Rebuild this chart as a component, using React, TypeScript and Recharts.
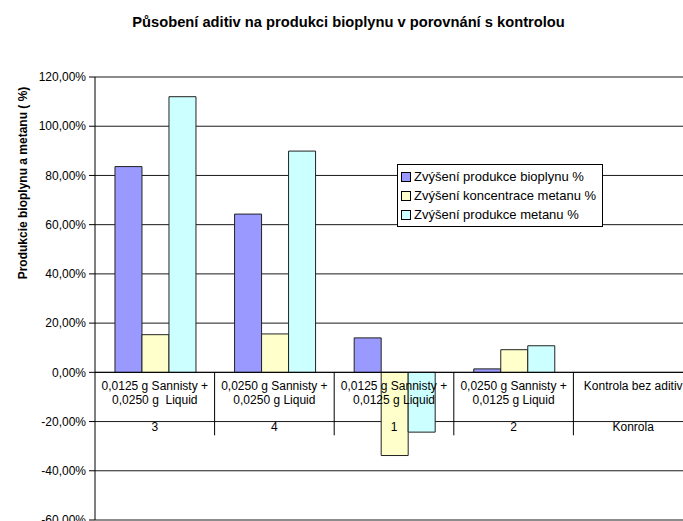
import { BarChart, Bar, XAxis, YAxis, CartesianGrid, Legend, ReferenceLine } from 'recharts'

const categoryLines = [
  ['0,0125 g Sannisty +', '0,0250 g  Liquid'],
  ['0,0250 g Sannisty +', '0,0250 g Liquid'],
  ['0,0125 g Sannisty +', '0,0125 g Liquid'],
  ['0,0250 g Sannisty +', '0,0125 g Liquid'],
  ['Kontrola bez aditiv'],
]
const groupLabels = ['3', '4', '1', '2', 'Konrola']

const bioplynProdukce = [0.836, 0.643, 0.14, 0.014, 0]
const metanKoncentrace = [0.153, 0.156, -0.338, 0.092, 0]
const metanProdukce = [1.12, 0.899, -0.243, 0.108, 0]

const yTicks = [-0.6, -0.4, -0.2, 0, 0.2, 0.4, 0.6, 0.8, 1.0, 1.2]

const seriesNames = [
  'Zvýšení produkce bioplynu %',
  'Zvýšení koncentrace metanu %',
  'Zvýšení produkce metanu %',
]
const seriesColors = ['#9999ff', '#ffffcc', '#ccffff']

const data = categoryLines.map((lines, i) => ({
  name: String(i),
  bioplyn: bioplynProdukce[i],
  koncentrace: metanKoncentrace[i],
  metan: metanProdukce[i],
}))

const FONT = '"Liberation Sans", Arial, sans-serif'
const PLOT_LEFT = 95
const PLOT_TOP = 77
const PLOT_W = 598
const PLOT_H = 443
const X_AXIS_H = 30
const ZERO_Y = PLOT_TOP + PLOT_H * (1.2 / 1.8)
const BAND = PLOT_W / categoryLines.length

const formatPct = (v: number) => `${(v * 100).toFixed(2).replace('.', ',')}%`

const CategoryTick = (props: any) => {
  const { x, payload } = props
  const i = Number(payload.value)
  const lines = categoryLines[i]
  return (
    <g>
      {lines.map((line, k) => (
        <text
          key={k}
          x={x}
          y={ZERO_Y + 18 + k * 14}
          textAnchor="middle"
          fontSize={12}
          fontFamily={FONT}
          fill="#000"
          style={{ whiteSpace: 'pre' }}
        >
          {line}
        </text>
      ))}
      <text x={x} y={ZERO_Y + 59} textAnchor="middle" fontSize={12} fontFamily={FONT} fill="#000">
        {groupLabels[i]}
      </text>
      <line x1={x + BAND / 2} x2={x + BAND / 2} y1={ZERO_Y} y2={ZERO_Y + 63} stroke="#000" />
    </g>
  )
}

const renderLegend = () => (
  <div
    style={{
      border: '1px solid #000',
      background: '#fff',
      padding: '2px 6px 2px 3px',
      fontFamily: FONT,
      fontSize: 13,
      color: '#000',
    }}
  >
    {seriesNames.map((name, i) => (
      <div key={name} style={{ display: 'flex', alignItems: 'center', height: 19 }}>
        <span
          style={{
            display: 'inline-block',
            width: 8,
            height: 8,
            border: '1px solid #000',
            background: seriesColors[i],
            marginRight: 3,
          }}
        />
        {name}
      </div>
    ))}
  </div>
)

const renderYLabel = () => (
  <text
    x={0}
    y={0}
    transform="translate(27, 183) rotate(-90)"
    textAnchor="middle"
    fontSize={12}
    fontWeight="bold"
    fontFamily={FONT}
    fill="#000"
  >
    Produkcie bioplynu a metanu ( %)
  </text>
)

export default function App() {
  return (
    <div
      style={{
        position: 'fixed',
        left: 0,
        top: 0,
        width: 683,
        height: 521,
        overflow: 'hidden',
        background: '#fff',
      }}
    >
      <div
        style={{
          position: 'absolute',
          left: 0,
          width: 697,
          top: 14,
          textAlign: 'center',
          fontFamily: FONT,
          fontWeight: 'bold',
          fontSize: 14.7,
          color: '#000',
        }}
      >
        Působení aditiv na produkci bioplynu v porovnání s kontrolou
      </div>
      <BarChart
        width={PLOT_LEFT + PLOT_W}
        height={PLOT_TOP + PLOT_H + X_AXIS_H}
        data={data}
        margin={{ top: PLOT_TOP, right: 0, bottom: 0, left: 0 }}
        barCategoryGap="16.7%"
        barGap={0}
      >
        <CartesianGrid horizontal vertical={false} stroke="#000" strokeOpacity={0.9} />
        <XAxis
          dataKey="name"
          height={X_AXIS_H}
          axisLine={false}
          tickLine={false}
          tick={<CategoryTick />}
          interval={0}
        />
        <YAxis
          width={PLOT_LEFT}
          domain={[-0.6, 1.2]}
          ticks={yTicks}
          tickFormatter={formatPct}
          tick={{ fontSize: 12, fontFamily: FONT, fill: '#000' }}
          tickSize={6}
          tickMargin={3}
          stroke="#000"
          interval={0}
          label={{ content: renderYLabel }}
        />
        <ReferenceLine y={0} stroke="#000" />
        <Legend
          content={renderLegend}
          layout="vertical"
          align="center"
          verticalAlign="middle"
          wrapperStyle={{ position: 'absolute', left: 397, top: 164, width: 'auto', height: 'auto' }}
        />
        <Bar dataKey="bioplyn" fill={seriesColors[0]} stroke="#222" isAnimationActive={false} name={seriesNames[0]} />
        <Bar dataKey="koncentrace" fill={seriesColors[1]} stroke="#222" isAnimationActive={false} name={seriesNames[1]} />
        <Bar dataKey="metan" fill={seriesColors[2]} stroke="#222" isAnimationActive={false} name={seriesNames[2]} />
      </BarChart>
    </div>
  )
}
